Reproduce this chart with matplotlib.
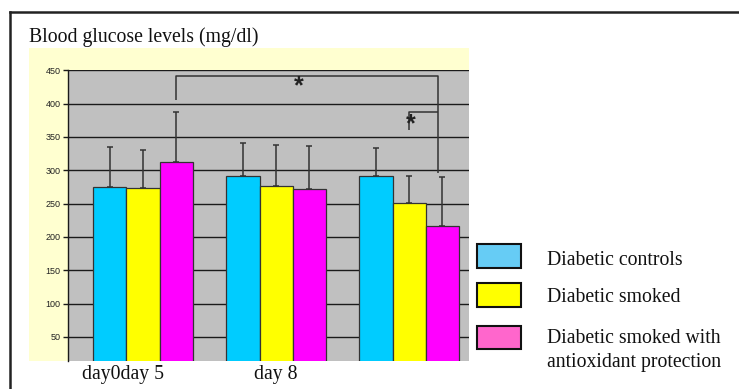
import numpy as np
import matplotlib
matplotlib.use("Agg")
import matplotlib.pyplot as plt
from matplotlib.patches import Rectangle
from matplotlib.lines import Line2D
from matplotlib.transforms import ScaledTranslation

# ---- data -------------------------------------------------------------
categories = ["day0day 5", "day 8", ""]
series_names = ["Diabetic controls", "Diabetic smoked",
                "Diabetic smoked with\nantioxidant protection"]
controls = [275, 291, 291]
smoked = [274, 277, 251]
smoked_antiox = [312, 272, 216]
controls_err = [60, 50, 43]
smoked_err = [57, 61, 40]
smoked_antiox_err = [75, 65, 74]
bar_colors = ["#00CCFF", "#FFFF00", "#FF00FF"]
legend_colors = ["#66CCF5", "#FFFF00", "#FF66CC"]
y_ticks = [50, 100, 150, 200, 250, 300, 350, 400, 450]

# ---- figure / layout (pixel helpers) ---------------------------------
W, H = 739, 389
DPI = 100
fig = plt.figure(figsize=(W / DPI, H / DPI), dpi=DPI)
fig.patch.set_facecolor("white")


def fx(px):
    return px / W


def fy(py):
    return 1 - py / H


serif = "Liberation Serif"
sans = "Liberation Sans"

# outer frame (top and left edges)
fig.add_artist(Line2D([fx(9.5), 1.0], [fy(12), fy(12)], color="#222222", lw=1.8))
fig.add_artist(Line2D([fx(9.5), fx(9.5)], [fy(12), 0.0], color="#222222", lw=1.8))

# pale yellow chart area
fig.add_artist(Rectangle((fx(29.3), fy(361)), fx(469.3) - fx(29.3), fy(48.3) - fy(361),
                         transform=fig.transFigure, facecolor="#FFFFD0",
                         edgecolor="none", zorder=0))

fig.text(fx(29.3), fy(42.3), "Blood glucose levels (mg/dl)", family=serif,
         fontsize=14.2, va="baseline", ha="left", color="#111111")

# ---- axes ------------------------------------------------------------
ax = fig.add_axes([fx(68.3), fy(361), fx(469.3) - fx(68.3), fy(70.3) - fy(361)])
ax.set_facecolor("#C0C0C0")
ax.set_zorder(1)

x = np.arange(len(categories))
width = 0.25
groups = [(controls, controls_err), (smoked, smoked_err), (smoked_antiox, smoked_antiox_err)]
for i, ((vals, errs), col) in enumerate(zip(groups, bar_colors)):
    pos = x + (i - 1) * width
    ax.bar(pos, vals, width=width, color=col, edgecolor="#333333", linewidth=0.9, zorder=3)
    ax.errorbar(pos, vals, yerr=[np.zeros(len(errs)), errs], fmt="none",
                ecolor="#333333", elinewidth=1.1, capsize=2.2, capthick=1.1, zorder=4)

ax.set_xlim(-0.5625, 2.452)
ax.set_ylim(14, 450)
ax.set_yticks(y_ticks)
ax.set_yticklabels([str(t) for t in y_ticks], family=sans, fontsize=6.5, color="#222222")
ax.yaxis.grid(True, color="#1a1a1a", linewidth=1.0, zorder=1)
ax.set_axisbelow(True)
ax.tick_params(axis="y", length=3.5, width=1.0, color="#1a1a1a", pad=2)
for side in ["top", "right", "bottom"]:
    ax.spines[side].set_visible(False)
ax.spines["left"].set_color("#1a1a1a")
ax.spines["left"].set_linewidth(1.0)

ax.set_xticks(x)
ax.set_xticklabels(categories, family=serif, fontsize=14.2, color="#111111")
ax.tick_params(axis="x", length=0, pad=3)
first = ax.get_xticklabels()[0]
first.set_transform(first.get_transform() + ScaledTranslation(-20 / DPI, 0, fig.dpi_scale_trans))

# ---- significance brackets -------------------------------------------
bk = dict(color="#333333", lw=1.1, zorder=5, solid_capstyle="butt")
ax.plot([0.25, 0.25, 2.215, 2.215], [405, 442, 442, 296], **bk)
ax.plot([2.0, 2.0, 2.215], [360, 388, 388], **bk)
star = dict(ha="center", va="baseline", fontsize=18, family=sans, fontweight="bold",
            color="#222222", zorder=6)
ax.text(1.17, 416, "*", **star)
ax.text(2.01, 358, "*", **star)

# ---- legend ----------------------------------------------------------
box_x0, box_x1 = 476.7, 520.7
box_centers = [256, 295, 337.7]
text_tops = [265, 301.7, 343.3]
for col, name, cy, tb in zip(legend_colors, series_names, box_centers, text_tops):
    fig.add_artist(Rectangle((fx(box_x0), fy(cy + 11.7)), fx(box_x1) - fx(box_x0),
                             fy(cy - 11.7) - fy(cy + 11.7), transform=fig.transFigure,
                             facecolor=col, edgecolor="#111111", linewidth=1.5))
    lines = name.split("\n")
    for k, line in enumerate(lines):
        fig.text(fx(546.7), fy(tb + 23.4 * k), line, family=serif, fontsize=14.2,
                 va="baseline", ha="left", color="#111111")

fig.savefig("out.png", dpi=DPI)
